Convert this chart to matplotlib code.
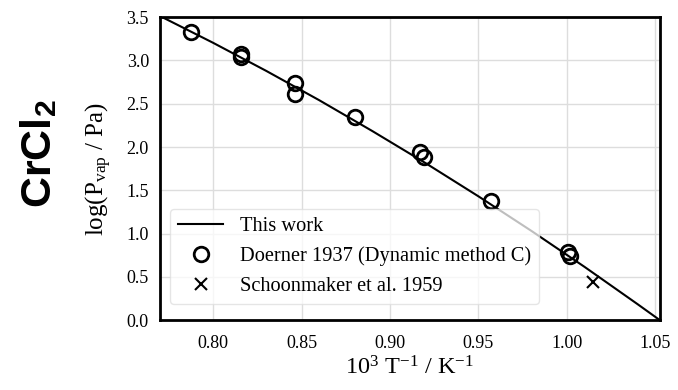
import matplotlib.pyplot as plt
import numpy as np

# fitted curve (this work)
fit_x = [0.770, 0.800, 0.830, 0.860, 0.890, 0.920, 0.950, 0.980, 1.010, 1.040, 1.055]
fit_y = [3.513, 3.204, 2.880, 2.541, 2.185, 1.816, 1.431, 1.031, 0.616, 0.185, -0.035]

# Doerner 1937 dynamic method C
doerner_x = [0.7874, 0.8157, 0.8160, 0.8462, 0.8464, 0.8800, 0.9168, 0.9191, 0.9570, 1.0009, 1.0019]
doerner_y = [3.33, 3.08, 3.04, 2.74, 2.61, 2.35, 1.94, 1.89, 1.38, 0.79, 0.74]

# Schoonmaker et al. 1959
schoon_x = [1.015]
schoon_y = [0.44]

xticks = [0.80, 0.85, 0.90, 0.95, 1.00, 1.05]
yticks = [0.0, 0.5, 1.0, 1.5, 2.0, 2.5, 3.0, 3.5]

plt.rcParams['font.family'] = ['Liberation Serif', 'DejaVu Serif']
plt.rcParams['mathtext.fontset'] = 'custom'
plt.rcParams['mathtext.rm'] = 'Liberation Serif'
plt.rcParams['mathtext.it'] = 'Liberation Serif:italic'
plt.rcParams['mathtext.bf'] = 'Liberation Sans:bold'

fig = plt.figure(figsize=(6.78, 3.9), dpi=100)
ax = fig.add_axes([0.236, 0.179, 0.737, 0.777])

ax.plot(fit_x, fit_y, color='black', lw=1.5, label='This work', zorder=2)
ax.plot(doerner_x, doerner_y, 'o', mfc='none', mec='black', mew=2, ms=10.5,
        label='Doerner 1937 (Dynamic method C)', zorder=3)
ax.plot(schoon_x, schoon_y, 'x', color='black', mew=1.5, ms=9,
        label='Schoonmaker et al. 1959', zorder=3)

ax.set_xlim(0.77, 1.0525)
ax.set_ylim(0.0, 3.5)
ax.set_xticks(xticks)
ax.set_yticks(yticks)
ax.set_xticklabels(['%.2f' % v for v in xticks])
ax.set_yticklabels(['%.1f' % v for v in yticks])
ax.tick_params(length=0, labelsize=13, pad=8)
ax.tick_params(axis='x', pad=11)
ax.grid(True, color='#dddddd', lw=1)
ax.set_axisbelow(True)
for s in ax.spines.values():
    s.set_linewidth(2)
    s.set_color('black')

ax.set_xlabel(r'10$^{3}$ T$^{-1}$ / K$^{-1}$', fontsize=17.5, labelpad=3)
ax.set_ylabel(r'log(P$_{\rm vap}$ / Pa)', fontsize=18, labelpad=9)

leg = ax.legend(loc='lower left', fontsize=14.7, framealpha=0.75, fancybox=True,
                handlelength=2.2, borderpad=0.4, labelspacing=0.5,
                bbox_to_anchor=(0.0, 0.02))
leg.get_frame().set_edgecolor('#dddddd')

fig.text(0.059, 0.605, r'CrCl$_\mathbf{2}$', rotation=90, fontsize=31, fontweight='bold',
         family='Liberation Sans', ha='center', va='center')

fig.savefig('out.png', dpi=100)
